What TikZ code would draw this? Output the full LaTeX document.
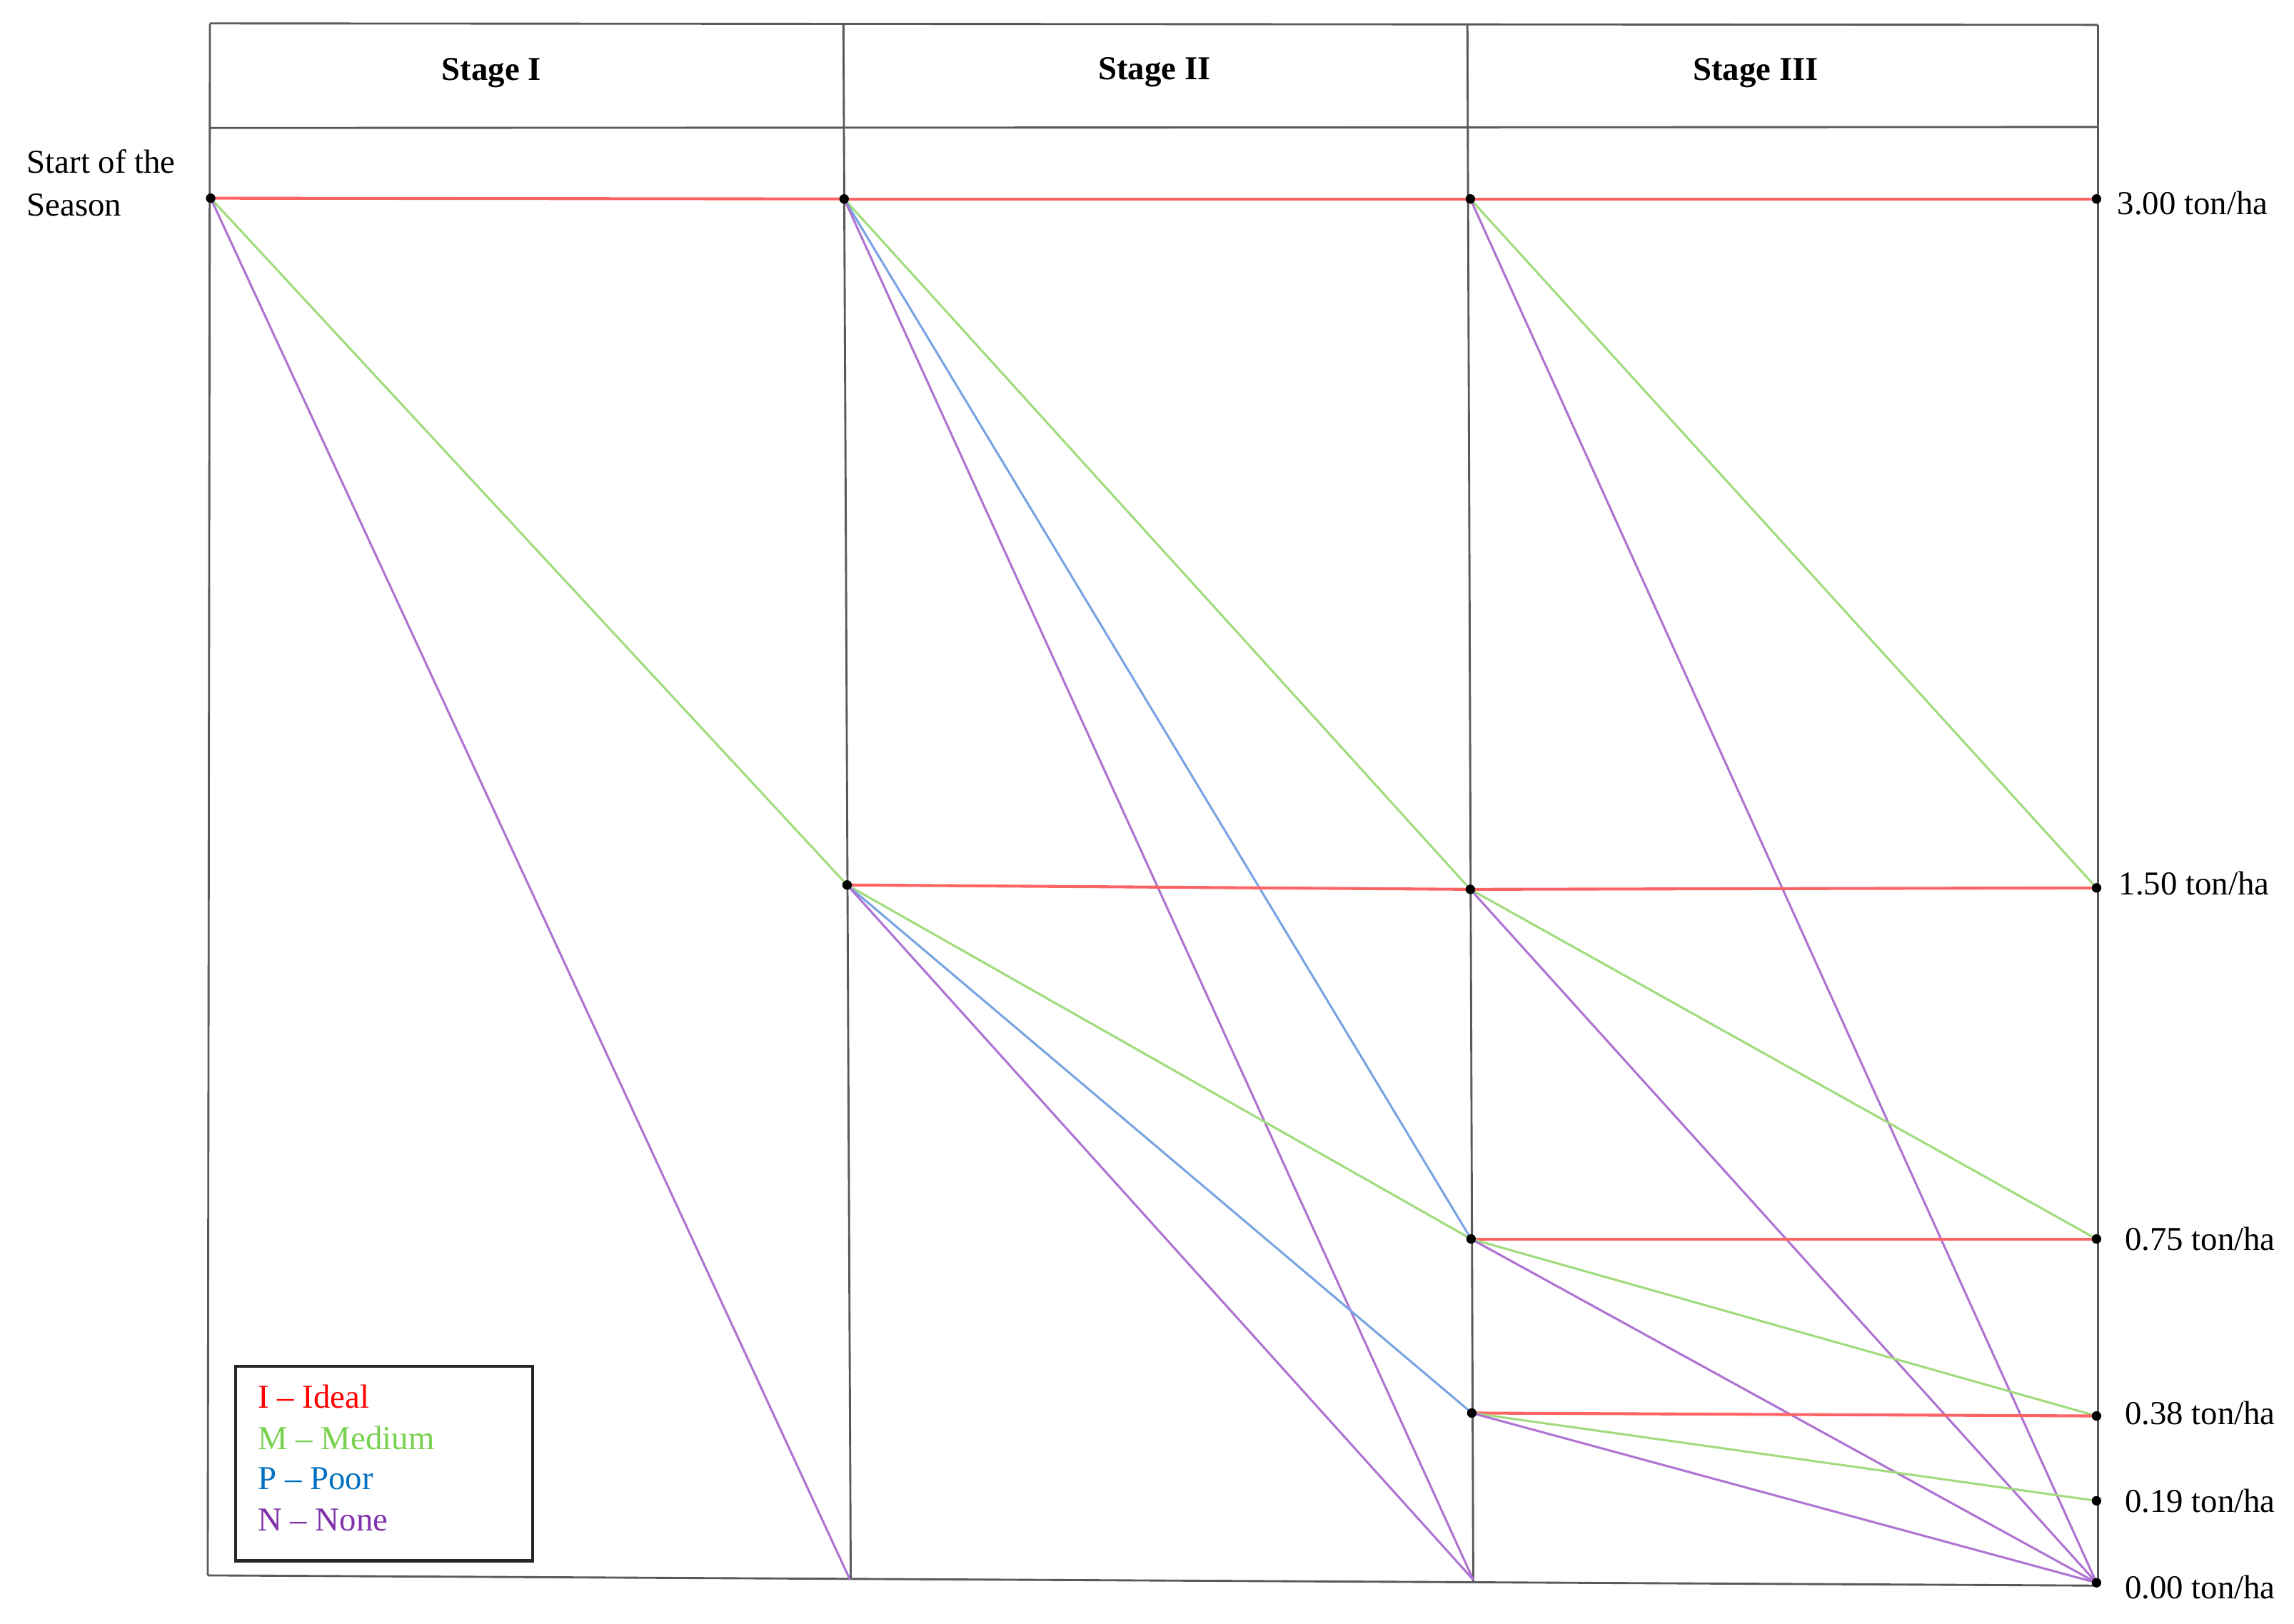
\documentclass[tikz,border=0pt]{standalone}
\usepackage{fontspec}
\setmainfont{Liberation Serif}
\definecolor{idealc}{RGB}{255,100,100}
\definecolor{medc}{RGB}{160,220,125}
\definecolor{poorc}{RGB}{120,165,225}
\definecolor{nonec}{RGB}{175,115,210}
\definecolor{idealt}{RGB}{255,0,0}
\definecolor{medt}{RGB}{120,210,80}
\definecolor{poort}{RGB}{0,112,192}
\definecolor{nonet}{RGB}{128,50,170}
\begin{document}
\begin{tikzpicture}[x=0.2mm,y=-0.2mm,
  frame/.style={draw=black!65, line width=0.28mm},
  lineI/.style={draw=idealc, line width=0.4mm},
  lineM/.style={draw=medc, line width=0.3mm},
  lineP/.style={draw=poorc, line width=0.3mm},
  lineN/.style={draw=nonec, line width=0.3mm},
  dot/.style={circle, fill=black, inner sep=0pt, minimum size=1.3mm},
  lbl/.style={font=\fontsize{13}{15}\selectfont, anchor=west, inner sep=0pt},
  head/.style={font=\fontsize{13}{15}\selectfont\bfseries, inner sep=0pt},
  leg/.style={font=\fontsize{13}{15}\selectfont, anchor=west, inner sep=0pt}]
\useasboundingbox (0,0) rectangle (1568,1110);
% frame corners
\coordinate (TL) at (143.5,16);
\coordinate (TR) at (1434,17);
\coordinate (BL) at (142,1077);
\coordinate (BR) at (1434,1084);
\coordinate (T2) at (576.5,16.5);
\coordinate (B2) at (581.5,1080);
\coordinate (T3) at (1003,16.8);
\coordinate (B3b) at (1007,1082);
\coordinate (HL) at (143.5,87.5);
\coordinate (HR) at (1434,86.8);
\draw[frame] (TL) -- (TR);
\draw[frame] (HL) -- (HR);
\draw[frame] (BL) -- (BR);
\draw[frame] (TL) -- (BL);
\draw[frame] (T2) -- (B2);
\draw[frame] (T3) -- (B3b);
\draw[frame] (TR) -- (BR);
% headers
\node[head] (h1) at (336,50) {Stage I};
\node[head] (h2) at (789,49.5) {Stage II};
\node[head] (h3) at (1200,50) {Stage III};
\node[lbl, align=left, font=\fontsize{13}{16.5}\selectfont] (start) at (18,125) {Start of the\\Season};
% points
\coordinate (S0) at (144,135.5);
\coordinate (A3) at (577,136);
\coordinate (A15) at (579,605);
\coordinate (A0) at (581,1080);
\coordinate (B3) at (1005,136);
\coordinate (B15) at (1005,608);
\coordinate (B075) at (1005.5,847);
\coordinate (B038) at (1006,966);
\coordinate (B0) at (1007,1080);
\coordinate (C3) at (1433,136);
\coordinate (C15) at (1433,607);
\coordinate (C075) at (1433,847);
\coordinate (C038) at (1433,968);
\coordinate (C019) at (1433,1026);
\coordinate (C0) at (1433,1082);
% stage I
\draw[lineI] (S0) -- (A3);
\draw[lineM] (S0) -- (A15);
\draw[lineN] (S0) -- (A0);
% stage II
\draw[lineI] (A3) -- (B3);
\draw[lineM] (A3) -- (B15);
\draw[lineP] (A3) -- (B075);
\draw[lineN] (A3) -- (B0);
\draw[lineI] (A15) -- (B15);
\draw[lineM] (A15) -- (B075);
\draw[lineP] (A15) -- (B038);
\draw[lineN] (A15) -- (B0);
% stage III
\draw[lineI] (B3) -- (C3);
\draw[lineM] (B3) -- (C15);
\draw[lineN] (B3) -- (C0);
\draw[lineI] (B15) -- (C15);
\draw[lineM] (B15) -- (C075);
\draw[lineN] (B15) -- (C0);
\draw[lineI] (B075) -- (C075);
\draw[lineM] (B075) -- (C038);
\draw[lineN] (B075) -- (C0);
\draw[lineI] (B038) -- (C038);
\draw[lineM] (B038) -- (C019);
\draw[lineN] (B038) -- (C0);
% dots
\foreach \p in {S0,A3,A15,B3,B15,B075,B038,C3,C15,C075,C038,C019,C0}
  \node[dot] (d\p) at (\p) {};
% value labels
\node[lbl] (v300) at (1447,139) {3.00 ton/ha};
\node[lbl] (v150) at (1448,604) {1.50 ton/ha};
\node[lbl] (v075) at (1452,847) {0.75 ton/ha};
\node[lbl] (v038) at (1452,966) {0.38 ton/ha};
\node[lbl] (v019) at (1452,1026) {0.19 ton/ha};
\node[lbl] (v000) at (1452,1085) {0.00 ton/ha};
% legend
\draw[draw=black!85, line width=0.45mm] (161,934) rectangle (364,1067);
\node[leg, text=idealt] (lI) at (176,955) {I -- Ideal};
\node[leg, text=medt] (lM) at (176,983) {M -- Medium};
\node[leg, text=poort] (lP) at (176,1011) {P -- Poor};
\node[leg, text=nonet] (lN) at (176,1039) {N -- None};
\end{tikzpicture}
\end{document}
